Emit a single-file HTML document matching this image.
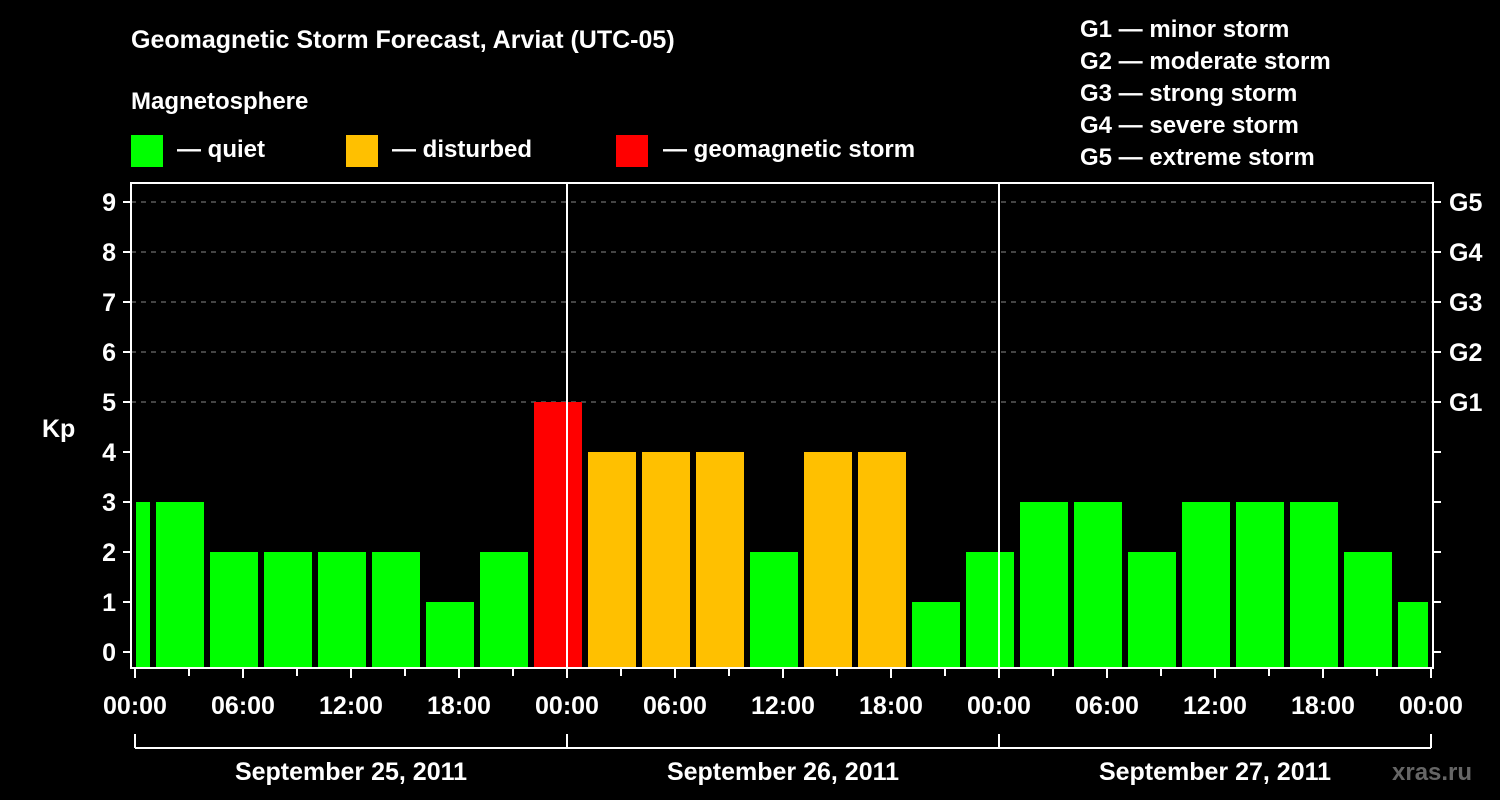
<!DOCTYPE html>
<html><head><meta charset="utf-8"><style>
html,body{margin:0;padding:0;background:#000;}
svg{display:block;font-family:"Liberation Sans",Arial,sans-serif;font-weight:bold;}
</style></head><body>
<svg id="chart" width="1500" height="800" viewBox="0 0 1500 800">
<rect width="1500" height="800" fill="#000"/>
<text x="131" y="48" fill="#fff" font-size="25">Geomagnetic Storm Forecast, Arviat (UTC-05)</text>
<text x="131" y="109" fill="#fff" font-size="24">Magnetosphere</text>
<g><rect x="131" y="135" width="32" height="32" fill="#00ff00"/><text x="177" y="157" fill="#fff" font-size="24">— quiet</text></g>
<g><rect x="346" y="135" width="32" height="32" fill="#ffc000"/><text x="392" y="157" fill="#fff" font-size="24">— disturbed</text></g>
<g><rect x="616" y="135" width="32" height="32" fill="#ff0000"/><text x="663" y="157" fill="#fff" font-size="24">— geomagnetic storm</text></g>
<g fill="#fff" font-size="24">
<text x="1080" y="37">G1 — minor storm</text>
<text x="1080" y="69">G2 — moderate storm</text>
<text x="1080" y="101">G3 — strong storm</text>
<text x="1080" y="133">G4 — severe storm</text>
<text x="1080" y="165">G5 — extreme storm</text>
</g>
<text x="42" y="437" fill="#fff" font-size="25">Kp</text>
<text x="1392" y="780" fill="#666" font-size="24">xras.ru</text>
<g id="grid"></g><g id="bars"></g><g id="axes"></g>
</svg>
<script>
const kpValues=[3,3,2,2,2,2,1,2,5,4,4,4,2,4,4,1,2,3,3,2,3,3,3,2,1];
const binStartHours=[-2,1,4,7,10,13,16,19,22,25,28,31,34,37,40,43,46,49,52,55,58,61,64,67,70];
const dayLabels=["September 25, 2011","September 26, 2011","September 27, 2011"];
const xTickLabels=["00:00","06:00","12:00","18:00"];
const yTickLabels=[0,1,2,3,4,5,6,7,8,9];
const gLabels=["G1","G2","G3","G4","G5"];
const NS="http://www.w3.org/2000/svg";
const L=131,R=1433,T=183,B=668,X0=135,PXH=18;
const x=h=>X0+h*PXH;
const y=v=>652-v*50;
function mk(tag,attrs,parent,text){const e=document.createElementNS(NS,tag);for(const k in attrs)e.setAttribute(k,attrs[k]);if(text!==undefined)e.textContent=text;document.getElementById(parent).appendChild(e);return e;}
for(let v=5;v<=9;v++){const e=mk('line',{x1:L,x2:R,y1:y(v),y2:y(v),stroke:'#888','stroke-dasharray':'5,5','stroke-width':1},'grid');

}
kpValues.forEach((v,i)=>{const s=Math.max(binStartHours[i],0),en=Math.min(binStartHours[i]+3,72);
const x1=(binStartHours[i]<0?x(0)+1:x(s)+3),x2=(binStartHours[i]+3>72?x(72)-3:x(en)-3);
const c=v>=5?'#ff0000':(v>=4?'#ffc000':'#00ff00');
const e=mk('rect',{x:x1,y:y(v),width:x2-x1,height:B-y(v),fill:c},'bars');

});
for(let d=1;d<3;d++){const e=mk('line',{x1:x(d*24),x2:x(d*24),y1:T,y2:B,stroke:'#fff','stroke-width':2},'axes');

}
const fr=mk('rect',{x:L,y:T,width:R-L,height:B-T,fill:'none',stroke:'#fff','stroke-width':2},'axes');


yTickLabels.forEach(v=>{mk('line',{x1:L-8,x2:L,y1:y(v),y2:y(v),stroke:'#fff','stroke-width':2},'axes');
mk('line',{x1:R,x2:R+8,y1:y(v),y2:y(v),stroke:'#fff','stroke-width':2},'axes');
const t=mk('text',{x:116,y:y(v)+9,fill:'#fff','font-size':25,'text-anchor':'end'},'axes',v);

});
gLabels.forEach((g,i)=>{const t=mk('text',{x:1449,y:y(i+5)+9,fill:'#fff','font-size':25},'axes',g);

});
for(let h=0;h<=72;h+=3){const major=h%6===0;mk('line',{x1:x(h),x2:x(h),y1:B,y2:B+(major?10:8),stroke:'#fff','stroke-width':2},'axes');
if(major){const t=mk('text',{x:x(h),y:714,fill:'#fff','font-size':25,'text-anchor':'middle'},'axes',xTickLabels[(h/6)%4]);

}}
mk('line',{x1:x(0),x2:x(72),y1:748,y2:748,stroke:'#fff','stroke-width':2},'axes');
for(let d=0;d<=3;d++)mk('line',{x1:x(d*24),x2:x(d*24),y1:734,y2:748,stroke:'#fff','stroke-width':2},'axes');
dayLabels.forEach((s,i)=>{const t=mk('text',{x:x(i*24+12),y:780,fill:'#fff','font-size':25,'text-anchor':'middle'},'axes',s);

});
</script>
</body></html>
